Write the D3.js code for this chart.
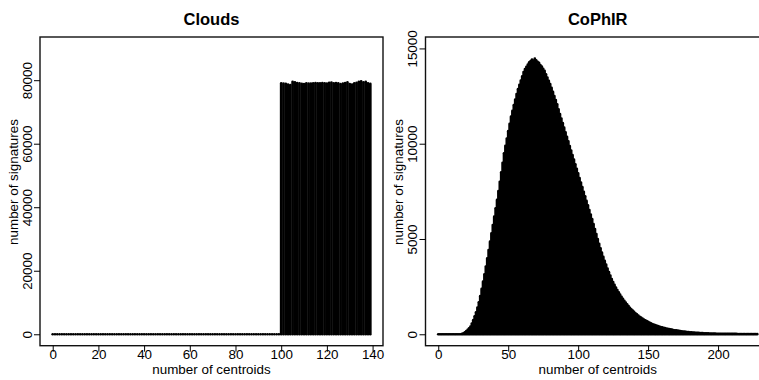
<!DOCTYPE html>
<html>
<head>
<meta charset="utf-8">
<script src="https://cdn.jsdelivr.net/npm/d3@7"></script>
<style>
  body { margin: 0; background: #fff; }
  svg { display: block; font-family: "Liberation Sans", Arial, Helvetica, sans-serif; }
  .tick text { font-size: 13.4px; fill: #000; }
  .tick line { stroke: #000; stroke-width: 1; }
</style>
</head>
<body>
<svg id="chart" width="759" height="380"></svg>
<script>
// counts per number of centroids (index = number of centroids)
var cloudsCounts = [
  0, 0, 0, 0, 0, 0, 0, 0, 0, 0,
  0, 0, 0, 0, 0, 0, 0, 0, 0, 0,
  0, 0, 0, 0, 0, 0, 0, 0, 0, 0,
  0, 0, 0, 0, 0, 0, 0, 0, 0, 0,
  0, 0, 0, 0, 0, 0, 0, 0, 0, 0,
  0, 0, 0, 0, 0, 0, 0, 0, 0, 0,
  0, 0, 0, 0, 0, 0, 0, 0, 0, 0,
  0, 0, 0, 0, 0, 0, 0, 0, 0, 0,
  0, 0, 0, 0, 0, 0, 0, 0, 0, 0,
  0, 0, 0, 0, 0, 0, 0, 0, 0, 0,
  78980, 78900, 78870, 78650, 78450, 79500, 79300, 79100, 78980, 78850,
  78750, 78980, 78900, 78950, 79000, 79050, 79000, 78980, 79080, 79000,
  78950, 79200, 79250, 78980, 79100, 78980, 78750, 78900, 79050, 79300,
  78800, 78650, 79000, 79200, 79500, 79600, 79350, 79450, 78980, 78850
];

var cophirCounts = [
  0, 0, 0, 0, 0, 0, 0, 0, 0, 0,
  0, 0, 0, 0, 0, 0, 0, 20, 50, 100,
  160, 230, 310, 400, 560, 740, 940, 1150, 1400, 1680,
  2000, 2380, 2760, 3150, 3550, 3980, 4420, 4860, 5290, 5730,
  6170, 6610, 7050, 7510, 8000, 8500, 9000, 9500, 9890, 10270,
  10660, 11040, 11420, 11720, 12020, 12310, 12610, 12860, 13090, 13310,
  13530, 13760, 13920, 14040, 14150, 14270, 14330, 14420, 14360, 14460,
  14380, 14300, 14250, 14120, 14050, 13930, 13820, 13640, 13470, 13300,
  13130, 12930, 12720, 12500, 12290, 12070, 11800, 11560, 11320, 11080,
  10840, 10600, 10360, 10120, 9880, 9640, 9400, 9160, 8920, 8680,
  8440, 8200, 7960, 7720, 7480, 7240, 7000, 6760, 6520, 6280,
  6040, 5780, 5520, 5260, 5000, 4750, 4510, 4280, 4060, 3850,
  3650, 3450, 3260, 3080, 2900, 2740, 2590, 2450, 2320, 2200,
  2080, 1970, 1860, 1760, 1660, 1570, 1480, 1390, 1310, 1240,
  1170, 1100, 1040, 980, 920, 870, 820, 775, 730, 690,
  650, 610, 575, 540, 510, 480, 455, 430, 405, 380,
  360, 340, 320, 300, 285, 270, 255, 240, 225, 210,
  200, 190, 175, 165, 155, 145, 135, 128, 120, 112,
  105, 98, 92, 86, 80, 75, 70, 65, 60, 56,
  52, 48, 45, 42, 39, 36, 34, 32, 30, 28,
  26, 25, 24, 23, 22, 21, 20, 19, 18, 18,
  17, 17, 16, 16, 15, 15, 15, 14, 14, 14,
  13, 13, 13, 13, 12, 12, 12, 12, 12
];

var cloudsXTicks = [0, 20, 40, 60, 80, 100, 120, 140];
var cloudsYTicks = [0, 20000, 40000, 60000, 80000];
var cophirXTicks = [0, 50, 100, 150, 200];
var cophirYTicks = [0, 5000, 10000, 15000];

var svg = d3.select("#chart");
var top_y = 37, bottom_y = 345.7;

// R style axis range: data limits plus 4% on each side
function expand(lim) {
  var d = (lim[1] - lim[0]) * 0.04;
  return [lim[0] - d, lim[1] + d];
}

function drawPanel(cfg) {
  var g = svg.append("g");

  var xScale = d3.scaleLinear()
    .domain(expand([0, cfg.counts.length - 1]))
    .range([cfg.left, cfg.right]);

  var yScale = d3.scaleLinear()
    .domain(expand(cfg.ylim))
    .range([bottom_y, top_y]);

  // histogram-like vertical lines (type = "h")
  g.selectAll("line.bar")
    .data(cfg.counts)
    .enter()
    .append("line")
    .attr("class", "bar")
    .attr("x1", function (d, i) { return xScale(i); })
    .attr("x2", function (d, i) { return xScale(i); })
    .attr("y1", yScale(0))
    .attr("y2", function (d) { return yScale(d); })
    .attr("stroke", "#000")
    .attr("stroke-width", 2.7)
    .attr("stroke-linecap", "round");

  // box
  g.append("rect")
    .attr("x", cfg.left)
    .attr("y", top_y)
    .attr("width", cfg.right - cfg.left)
    .attr("height", bottom_y - top_y)
    .attr("fill", "none")
    .attr("stroke", "#111")
    .attr("stroke-width", 1.4);

  // x axis
  var xAxis = g.append("g")
    .attr("transform", "translate(0," + bottom_y + ")")
    .call(d3.axisBottom(xScale).tickValues(cfg.xTicks).tickSize(6).tickSizeOuter(0));
  xAxis.select(".domain").remove();
  xAxis.selectAll("text")
    .attr("y", 13)
    .attr("dy", 0);

  // y axis with rotated labels
  var yAxis = g.append("g")
    .attr("transform", "translate(" + cfg.left + ",0)")
    .call(d3.axisLeft(yScale).tickValues(cfg.yTicks).tickSize(6).tickSizeOuter(0).tickFormat(d3.format("d")));
  yAxis.select(".domain").remove();
  yAxis.selectAll("text")
    .attr("transform", "rotate(-90)")
    .attr("x", 0)
    .attr("y", -8.3)
    .attr("dy", 0)
    .style("text-anchor", "middle");

  // title
  g.append("text")
    .attr("x", (cfg.left + cfg.right) / 2)
    .attr("y", 25)
    .attr("text-anchor", "middle")
    .style("font-size", "16.5px")
    .style("font-weight", "bold")
    .text(cfg.title);

  // axis labels
  g.append("text")
    .attr("x", (cfg.left + cfg.right) / 2)
    .attr("y", 373.5)
    .attr("text-anchor", "middle")
    .style("font-size", "13.4px")
    .text("number of centroids");

  g.append("text")
    .attr("transform", "translate(" + (cfg.left - 22.5) + ",182) rotate(-90)")
    .attr("text-anchor", "middle")
    .style("font-size", "13.4px")
    .text("number of signatures");
}

drawPanel({
  title: "Clouds",
  counts: cloudsCounts,
  ylim: [0, 90000],
  left: 40,
  right: 383,
  xTicks: cloudsXTicks,
  yTicks: cloudsYTicks
});

drawPanel({
  title: "CoPhIR",
  counts: cophirCounts,
  ylim: [0, 15000],
  left: 425.5,
  right: 770,
  xTicks: cophirXTicks,
  yTicks: cophirYTicks
});
</script>
</body>
</html>
